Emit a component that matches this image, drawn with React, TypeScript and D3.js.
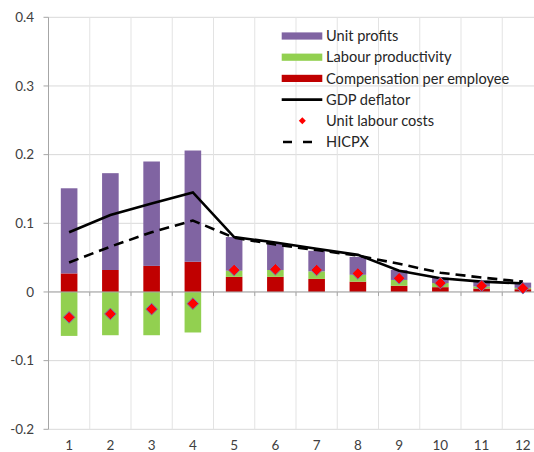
import React from "react";
import * as d3 from "d3";

const categories = ["1", "2", "3", "4", "5", "6", "7", "8", "9", "10", "11", "12"];
const compensation = [0.027, 0.032, 0.038, 0.044, 0.022, 0.022, 0.019, 0.015, 0.009, 0.007, 0.005, 0.004];
const productivity = [-0.064, -0.063, -0.063, -0.059, 0.009, 0.010, 0.011, 0.010, 0.0085, 0.006, 0.003, 0.002];
const unitProfits = [0.124, 0.141, 0.152, 0.162, 0.049, 0.038, 0.030, 0.026, 0.0145, 0.008, 0.0085, 0.0076];
const unitLabourCosts = [-0.037, -0.032, -0.025, -0.017, 0.032, 0.033, 0.032, 0.027, 0.020, 0.013, 0.009, 0.0055];
const gdpDeflator = [0.087, 0.112, 0.129, 0.145, 0.080, 0.072, 0.063, 0.054, 0.031, 0.020, 0.015, 0.0125];
const hicpx = [0.043, 0.066, 0.087, 0.104, 0.079, 0.069, 0.061, 0.053, 0.041, 0.028, 0.021, 0.015];
const yTicks = [-0.2, -0.1, 0, 0.1, 0.2, 0.3, 0.4];
const yTickLabels = ["-0.2", "-0.1", "0", "0.1", "0.2", "0.3", "0.4"];

const legendItems = [
  { label: "Unit profits", kind: "bar", color: "#8064A2" },
  { label: "Labour productivity", kind: "bar", color: "#92D050" },
  { label: "Compensation per employee", kind: "bar", color: "#C00000" },
  { label: "GDP deflator", kind: "line", color: "#000" },
  { label: "Unit labour costs", kind: "diamond", color: "#FF0000" },
  { label: "HICPX", kind: "dash", color: "#000" },
];

const W = 534;
const H = 452;
const FONT = "Lato, 'Open Sans', sans-serif";

export default function App() {
  const x = d3.scaleBand<string>().domain(categories).range([48.5, 48.5 + 12 * 41.25]).paddingInner(0).paddingOuter(0);
  const y = d3.scaleLinear().domain([-0.2, 0.4]).range([429.3, 17.3]);
  const bw = 16.6;
  const cx = (i: number) => (x(categories[i]) as number) + x.bandwidth() / 2;

  const bars: { x: number; y0: number; y1: number; color: string }[] = [];
  categories.forEach((_, i) => {
    let pos = 0;
    let neg = 0;
    const series = [
      { v: compensation[i], c: "#C00000" },
      { v: productivity[i], c: "#92D050" },
      { v: unitProfits[i], c: "#8064A2" },
    ];
    series.forEach((s) => {
      if (s.v >= 0) {
        bars.push({ x: cx(i) - bw / 2, y0: y(pos), y1: y(pos + s.v), color: s.c });
        pos += s.v;
      } else {
        bars.push({ x: cx(i) - bw / 2, y0: y(neg + s.v), y1: y(neg), color: s.c });
        neg += s.v;
      }
    });
  });

  const line = d3.line<number>().x((_, i) => cx(i)).y((d) => y(d));
  const left = 48.5;
  const right = 560;

  const diamond = (px: number, py: number, r: number) =>
    `M${px},${py - r}L${px + r},${py}L${px},${py + r}L${px - r},${py}Z`;

  return (
    <svg width={W} height={H} style={{ position: "absolute", left: 0, top: 0, background: "#fff" }} fontFamily={FONT}>
      {yTicks.map((t) => (
        <line key={"h" + t} x1={left} x2={right} y1={y(t)} y2={y(t)} stroke="#d9d9d9" strokeWidth={1} />
      ))}
      {categories.map((c) => (
        <line key={"v" + c} x1={(x(c) as number) + x.bandwidth()} x2={(x(c) as number) + x.bandwidth()} y1={y(0.4)} y2={y(-0.2)} stroke="#e3e3e3" strokeWidth={1} />
      ))}
      <line x1={left} x2={left} y1={y(0.4)} y2={y(-0.2)} stroke="#a6a6a6" strokeWidth={1} />
      {yTicks.map((t, i) => (
        <g key={"yt" + t}>
          <line x1={left - 5} x2={left} y1={y(t)} y2={y(t)} stroke="#a6a6a6" />
          <text x={34} y={y(t)} dy="0.35em" textAnchor="end" fontSize={13.5} fill="#404040">
            {yTickLabels[i]}
          </text>
        </g>
      ))}
      {bars.map((b, i) => (
        <rect key={"b" + i} x={b.x} y={b.y1} width={bw} height={Math.max(0, b.y0 - b.y1)} fill={b.color} />
      ))}
      <line x1={left} x2={right} y1={y(0)} y2={y(0)} stroke="#a6a6a6" strokeWidth={1} />
      {categories.map((c) => (
        <line key={"zt" + c} x1={(x(c) as number) + x.bandwidth()} x2={(x(c) as number) + x.bandwidth()} y1={y(0)} y2={y(0) + 4} stroke="#a6a6a6" />
      ))}
      <path d={line(hicpx) || ""} fill="none" stroke="#000" strokeWidth={2.6} strokeDasharray="10,6" />
      <path d={line(gdpDeflator) || ""} fill="none" stroke="#000" strokeWidth={2.6} />
      {unitLabourCosts.map((v, i) => (
        <path key={"d" + i} d={diamond(cx(i), y(v), 5.8)} fill="#FF0000" stroke="#7E6BB0" strokeWidth={1} />
      ))}
      {categories.map((c, i) => (
        <text key={"xl" + c} x={cx(i)} y={449.5} textAnchor="middle" fontSize={13.5} fill="#404040">
          {c}
        </text>
      ))}
      {legendItems.map((it, i) => {
        const ly = 36 + i * 21.2;
        return (
          <g key={"l" + i}>
            {it.kind === "bar" && <rect x={281.7} y={ly - 3.6} width={40.6} height={7.2} fill={it.color} />}
            {it.kind === "line" && <line x1={281.7} x2={322.3} y1={ly} y2={ly} stroke="#000" strokeWidth={2.6} />}
            {it.kind === "dash" && <line x1={283} x2={316} y1={ly} y2={ly} stroke="#000" strokeWidth={2.6} strokeDasharray="9,11" />}
            {it.kind === "diamond" && <path d={diamond(302.3, ly, 3.5)} fill="#FF0000" />}
            <text x={326} y={ly} dy="0.36em" fontSize={14.6} fill="#262626">
              {it.label}
            </text>
          </g>
        );
      })}
    </svg>
  );
}
